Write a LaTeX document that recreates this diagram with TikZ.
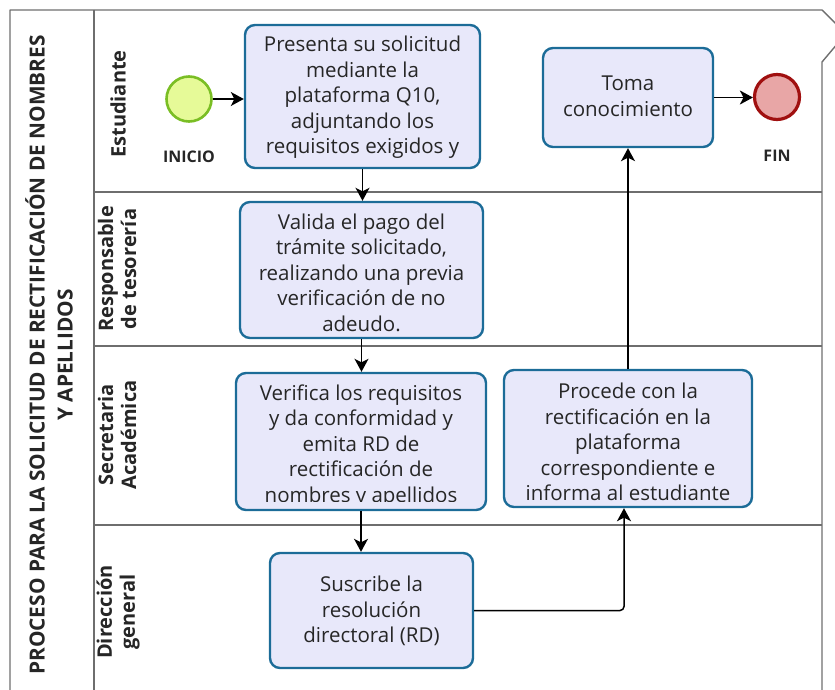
\documentclass[tikz,border=0pt]{standalone}
\usepackage{fontspec}
\setmainfont{Open Sans}
\usetikzlibrary{arrows.meta}
\definecolor{poolline}{RGB}{110,110,110}
\definecolor{taskborder}{RGB}{28,108,152}
\definecolor{taskfill}{RGB}{232,232,250}
\definecolor{startborder}{RGB}{122,190,36}
\definecolor{startfill}{RGB}{230,250,152}
\definecolor{endborder}{RGB}{160,16,16}
\definecolor{endfill}{RGB}{232,166,166}
\definecolor{txt}{RGB}{38,38,38}
\begin{document}
\begin{tikzpicture}[x=1pt,y=-1pt,
  pool/.style={draw=poolline,line width=1.4pt},
  task/.style={draw=taskborder,fill=taskfill,line width=2.4pt,rounded corners=10pt,inner sep=0pt},
  tasktext/.style={text=txt,font=\fontsize{20.5}{25.5}\selectfont,align=center,inner sep=0pt},
  lanelabel/.style={rotate=90,font=\bfseries\fontsize{20}{23}\selectfont,align=center,text=txt,inner sep=0pt},
  eventlabel/.style={font=\bfseries\fontsize{16}{18}\selectfont,text=txt,inner sep=0pt},
  flow/.style={draw=black,line width=1.5pt,-{Stealth[length=13pt,width=14pt,inset=3.5pt]}},
]
\useasboundingbox (0,0) rectangle (835,690);
\clip (0,0) rectangle (835,690);

% pool
\draw[pool,line join=round] (10,705) -- (10,10) -- (822,10) -- (838,26);
\draw[pool,line join=round] (838,43) -- (822,62) -- (822,705);
\draw[pool] (94,10) -- (94,705);
\draw[pool] (94,192) -- (822,192);
\draw[pool] (94,346) -- (822,346);
\draw[pool] (94,525) -- (822,525);

% title and lanes
\node[rotate=90,font=\bfseries\fontsize{20.8}{28}\selectfont,align=center,text=txt,inner sep=0pt] (title) at (49,355)
  {PROCESO PARA LA SOLICITUD DE RECTIFICACIÓN DE NOMBRES\\Y APELLIDOS};
\node[lanelabel] (l1) at (118,104) {Estudiante};
\node[lanelabel] (l2) at (117,269) {Responsable\\de tesorería};
\node[lanelabel] (l3) at (117,435) {Secretaria\\Académica};
\node[lanelabel] (l4) at (118,612) {Dirección\\general};

% events
\node[circle,draw=startborder,fill=startfill,line width=2.6pt,minimum size=45pt,inner sep=0pt] (start) at (189,99) {};
\node[eventlabel] (startlbl) at (189,157) {INICIO};
\node[circle,draw=endborder,fill=endfill,line width=3.2pt,minimum size=45pt,inner sep=0pt] (end) at (777,97) {};
\node[eventlabel] (endlbl) at (777,156) {FIN};

% tasks
\node[task,minimum width=235pt,minimum height=143pt] (t1) at (362.5,96.5) {};
\node[tasktext] (t1text) at (362.5,97.5) {Presenta su solicitud\\mediante la\\plataforma Q10,\\adjuntando los\\requisitos exigidos y};
\node[task,minimum width=243pt,minimum height=136pt] (t2) at (361.5,270) {};
\node[tasktext] (t2text) at (361.5,272.5) {Valida el pago del\\trámite solicitado,\\realizando una previa\\verificación de no\\adeudo.};
\node[task,minimum width=250pt,minimum height=137pt] (t3) at (361,441.5) {};
\begin{scope}
  \clip ([yshift=-3pt]t3.north west) rectangle ([yshift=10pt]t3.south east);
  \node[tasktext] (t3text) at (361,446) {Verifica los requisitos\\y da conformidad y\\emita RD de\\rectificación de\\nombres y apellidos};
\end{scope}
\node[task,minimum width=248pt,minimum height=137pt] (t4) at (628,438.5) {};
\node[tasktext] (t4text) at (628,442) {Procede con la\\rectificación en la\\plataforma\\correspondiente e\\informa al estudiante};
\node[task,minimum width=203pt,minimum height=115pt] (t5) at (371.5,610.5) {};
\node[tasktext] (t5text) at (371.5,611) {Suscribe la\\resolución\\directoral (RD)};
\node[task,minimum width=170pt,minimum height=99pt] (t6) at (628,97.5) {};
\node[tasktext] (t6text) at (628,96.5) {Toma\\conocimiento};

% flows
\draw[flow] (start.east) -- (start.east -| t1.west);
\draw[flow] (t1.south) -- (t1.south |- t2.north);
\draw[flow] (t2.south) -- (t2.south |- t3.north);
\draw[flow] (t3.south) -- (t3.south |- t5.north);
\draw[flow,rounded corners=4pt] (t5.east) -| ([xshift=-4pt]t4.south);
\draw[flow] (t4.north) -- (t4.north |- t6.south);
\draw[flow] (t6.east) -- (t6.east -| end.west);
\end{tikzpicture}
\end{document}
